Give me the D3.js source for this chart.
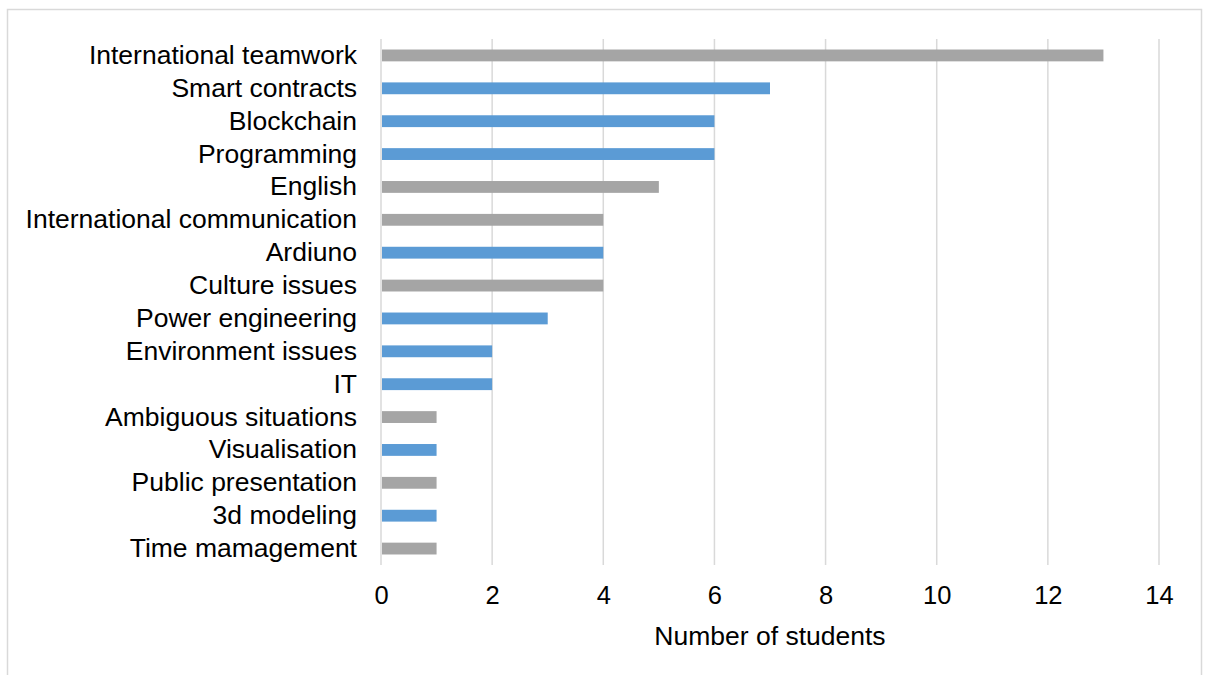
<!DOCTYPE html>
<html>
<head>
<meta charset="utf-8">
<script src="https://cdn.jsdelivr.net/npm/d3@7"></script>
<style>
  body { margin: 0; background: #fff; }
  svg { font-family: "Liberation Sans", Arial, sans-serif; }
</style>
</head>
<body>
<svg width="1205" height="675"></svg>
<script>
const categories = [
  "International teamwork", "Smart contracts", "Blockchain", "Programming",
  "English", "International communication", "Ardiuno", "Culture issues",
  "Power engineering", "Environment issues", "IT", "Ambiguous situations",
  "Visualisation", "Public presentation", "3d modeling", "Time mamagement"
];
const values = [13, 7, 6, 6, 5, 4, 4, 4, 3, 2, 2, 1, 1, 1, 1, 1];
const groups = ["soft", "tech", "tech", "tech", "soft", "soft", "tech", "soft",
  "tech", "tech", "tech", "soft", "tech", "soft", "tech", "soft"];
const xTicks = [0, 2, 4, 6, 8, 10, 12, 14];

const svg = d3.select("svg");
const margin = { top: 39, right: 46, bottom: 110, left: 381 };
const width = 1205 - margin.left - margin.right;
const height = 675 - margin.top - margin.bottom;

// chart border
svg.append("rect")
  .attr("x", 7.5).attr("y", 9.5)
  .attr("width", 1194).attr("height", 700)
  .attr("fill", "none")
  .attr("stroke", "#d9d9d9")
  .attr("stroke-width", 1.5);

const chart = svg.append("g").attr("transform", `translate(${margin.left},${margin.top})`);

const x = d3.scaleLinear().domain([0, 14]).range([0, width]);
const y = d3.scaleBand().domain(categories).range([0, height]).paddingInner(0.64).paddingOuter(0.32);
const color = d3.scaleOrdinal().domain(["tech", "soft"]).range(["#5b9bd5", "#a5a5a5"]);

// gridlines
chart.append("g")
  .selectAll("line")
  .data(xTicks)
  .enter()
  .append("line")
  .attr("x1", d => x(d)).attr("x2", d => x(d))
  .attr("y1", 0).attr("y2", height)
  .attr("stroke", "#d9d9d9")
  .attr("stroke-width", 1.5);

// bars
chart.selectAll("rect.bar")
  .data(categories)
  .enter()
  .append("rect")
  .attr("class", "bar")
  .attr("x", x(0) + 1)
  .attr("y", d => y(d))
  .attr("width", (d, i) => x(values[i]) - x(0) - 1)
  .attr("height", y.bandwidth())
  .attr("fill", (d, i) => color(groups[i]));

// X axis
const xAxis = chart.append("g")
  .attr("transform", `translate(0,${height})`)
  .call(d3.axisBottom(x).tickValues(xTicks).tickSize(0).tickPadding(21));
xAxis.select(".domain").remove();
xAxis.selectAll("text").attr("font-size", "25.5px").attr("fill", "#000").attr("font-family", null);

// Y axis
const yAxis = chart.append("g")
  .call(d3.axisLeft(y).tickSize(0).tickPadding(24));
yAxis.select(".domain").remove();
yAxis.selectAll("text").attr("font-size", "26.5px").attr("fill", "#000").attr("font-family", null);

// Axis title
svg.append("text")
  .attr("x", margin.left + width / 2)
  .attr("y", 645)
  .attr("text-anchor", "middle")
  .attr("font-size", "26.5px")
  .text("Number of students");
</script>
</body>
</html>
